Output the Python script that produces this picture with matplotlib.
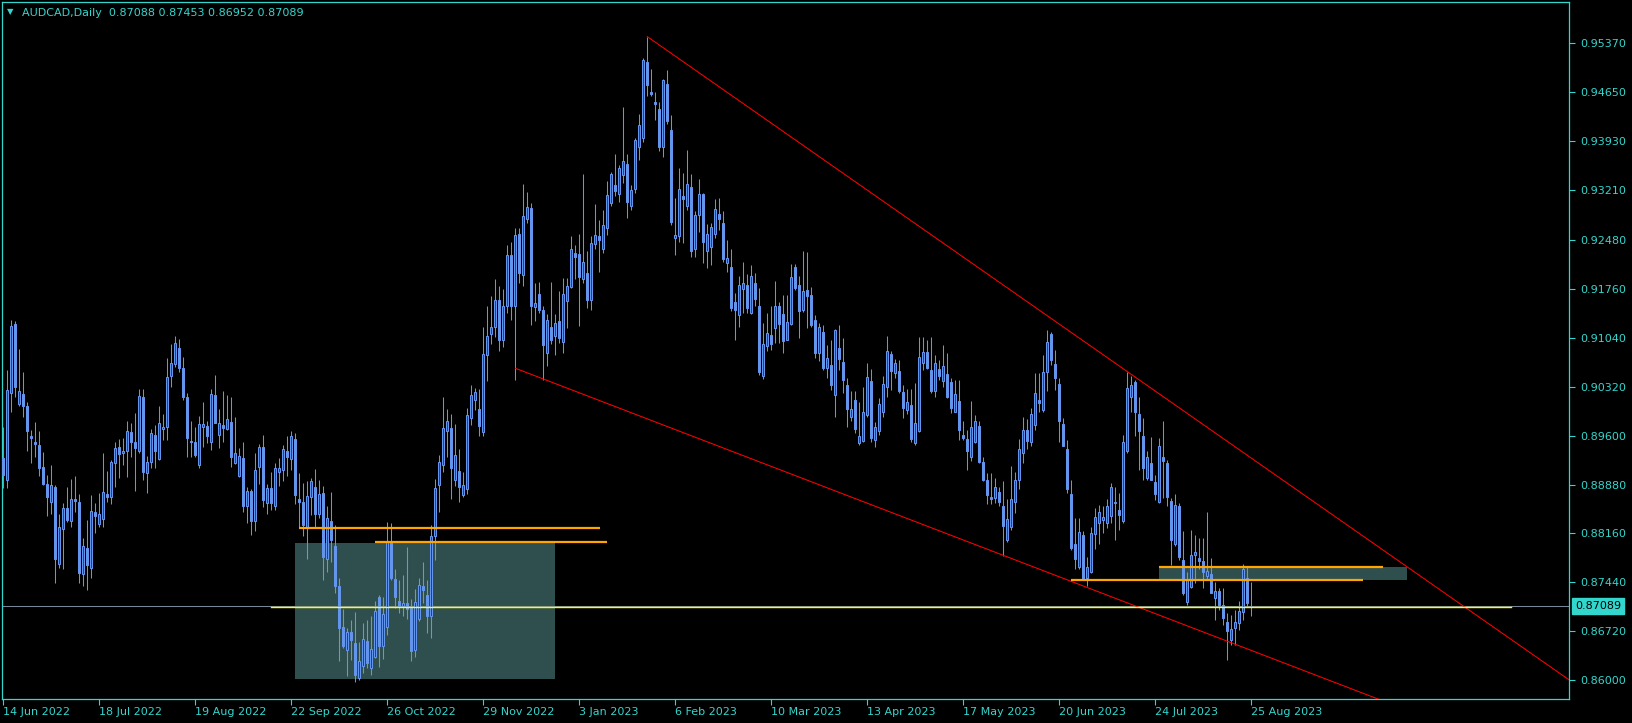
import matplotlib
matplotlib.use('Agg')
import matplotlib.pyplot as plt
import matplotlib.transforms as mtransforms
import numpy as np

# AUDCAD daily candles, 14 Jun 2022 .. 25 Aug 2023
opens = [
    0.8927, 0.8894, 0.9022, 0.9124, 0.9006, 0.9021, 0.9004, 0.8959, 0.8950, 0.8946,
    0.8914, 0.8889, 0.8863, 0.8885, 0.8771, 0.8823, 0.8854, 0.8834, 0.8867, 0.8863,
    0.8756, 0.8795, 0.8765, 0.8847, 0.8830, 0.8837, 0.8874, 0.8869, 0.8919, 0.8943,
    0.8934, 0.8937, 0.8965, 0.8950, 0.8937, 0.9017, 0.8905, 0.8921, 0.8961, 0.8926,
    0.8969, 0.8972, 0.9047, 0.9065, 0.9089, 0.9059, 0.9017, 0.8952, 0.8951, 0.8916,
    0.8973, 0.8974, 0.8950, 0.9020, 0.8961, 0.8976, 0.8969, 0.8980, 0.8919, 0.8900,
    0.8927, 0.8856, 0.8879, 0.8835, 0.8914, 0.8943, 0.8861, 0.8883, 0.8856, 0.8907,
    0.8910, 0.8937, 0.8925, 0.8955, 0.8866, 0.8863, 0.8825, 0.8869, 0.8885, 0.8844,
    0.8876, 0.8778, 0.8835, 0.8798, 0.8739, 0.8679, 0.8644, 0.8671, 0.8655, 0.8603,
    0.8621, 0.8658, 0.8618, 0.8634, 0.8723, 0.8650, 0.8678, 0.8803, 0.8749, 0.8717,
    0.8709, 0.8713, 0.8706, 0.8644, 0.8690, 0.8738, 0.8726, 0.8694, 0.8812, 0.8888,
    0.8916, 0.8966, 0.8971, 0.8895, 0.8908, 0.8873, 0.8881, 0.8986, 0.9013, 0.8999,
    0.8965, 0.9079, 0.9110, 0.9120, 0.9160, 0.9100, 0.9150, 0.9225, 0.9150, 0.9257,
    0.9196, 0.9278, 0.9294, 0.9149, 0.9168, 0.9145, 0.9081, 0.9120, 0.9106, 0.9129,
    0.9098, 0.9158, 0.9179, 0.9228, 0.9227, 0.9190, 0.9199, 0.9159, 0.9242, 0.9253,
    0.9235, 0.9265, 0.9302, 0.9329, 0.9315, 0.9344, 0.9360, 0.9298, 0.9322, 0.9385,
    0.9398, 0.9510, 0.9465, 0.9450, 0.9441, 0.9384, 0.9477, 0.9410, 0.9250, 0.9253,
    0.9312, 0.9298, 0.9326, 0.9234, 0.9284, 0.9315, 0.9232, 0.9238, 0.9256, 0.9286,
    0.9273, 0.9214, 0.9208, 0.9157, 0.9137, 0.9175, 0.9181, 0.9140, 0.9184, 0.9151,
    0.9047, 0.9092, 0.9108, 0.9118, 0.9151, 0.9139, 0.9101, 0.9124, 0.9208, 0.9182,
    0.9145, 0.9174, 0.9167, 0.9130, 0.9081, 0.9113, 0.9059, 0.9064, 0.9019, 0.9089,
    0.9068, 0.9035, 0.8987, 0.9013, 0.8949, 0.8952, 0.8990, 0.9040, 0.8953, 0.8967,
    0.8994, 0.9031, 0.9080, 0.9052, 0.9055, 0.9024, 0.8998, 0.9005, 0.8949, 0.8967,
    0.9067, 0.9083, 0.9057, 0.9025, 0.9058, 0.9040, 0.9050, 0.9039, 0.8995, 0.9011,
    0.8961, 0.8955, 0.8929, 0.8951, 0.8974, 0.8921, 0.8895, 0.8869, 0.8868, 0.8877,
    0.8856, 0.8806, 0.8826, 0.8863, 0.8895, 0.8935, 0.8968, 0.8951, 0.8976, 0.9013,
    0.8998, 0.9054, 0.9110, 0.9065, 0.9036, 0.8977, 0.8940, 0.8874, 0.8801, 0.8767,
    0.8814, 0.8750, 0.8759, 0.8815, 0.8831, 0.8836, 0.8831, 0.8841, 0.8862, 0.8851,
    0.8834, 0.8937, 0.9016, 0.9039, 0.8992, 0.8960, 0.8898, 0.8919, 0.8891, 0.8863,
    0.8929, 0.8919, 0.8864, 0.8800, 0.8857, 0.8777, 0.8715, 0.8737, 0.8784, 0.8780,
    0.8776, 0.8753, 0.8757, 0.8721, 0.8731, 0.8711, 0.8686, 0.8660, 0.8677, 0.8684,
    0.8700, 0.8751, 0.87088,
]
highs = [
    0.8973, 0.9056, 0.9130, 0.9129, 0.9087, 0.9054, 0.9009, 0.8968, 0.8980, 0.8967,
    0.8936, 0.8902, 0.8917, 0.8887, 0.8845, 0.8861, 0.8884, 0.8896, 0.8901, 0.8874,
    0.8810, 0.8836, 0.8873, 0.8861, 0.8875, 0.8934, 0.8908, 0.8924, 0.8951, 0.8955,
    0.8956, 0.8982, 0.8978, 0.8993, 0.9029, 0.9029, 0.8930, 0.8970, 0.8975, 0.9004,
    0.8991, 0.9074, 0.9095, 0.9106, 0.9102, 0.9075, 0.9023, 0.8981, 0.8972, 0.8989,
    0.9010, 0.8982, 0.9029, 0.9049, 0.8999, 0.9026, 0.9020, 0.9016, 0.8988, 0.8941,
    0.8951, 0.8884, 0.8881, 0.8935, 0.8948, 0.8961, 0.8889, 0.8907, 0.8919, 0.8927,
    0.8946, 0.8960, 0.8967, 0.8964, 0.8905, 0.8890, 0.8893, 0.8897, 0.8911, 0.8895,
    0.8886, 0.8857, 0.8877, 0.8828, 0.8751, 0.8705, 0.8677, 0.8689, 0.8701, 0.8657,
    0.8685, 0.8688, 0.8694, 0.8717, 0.8726, 0.8723, 0.8833, 0.8832, 0.8764, 0.8748,
    0.8755, 0.8796, 0.8720, 0.8735, 0.8751, 0.8774, 0.8748, 0.8828, 0.8896, 0.8932,
    0.9016, 0.8999, 0.8992, 0.8977, 0.8940, 0.8906, 0.9001, 0.9035, 0.9030, 0.9029,
    0.9120, 0.9150, 0.9165, 0.9190, 0.9180, 0.9175, 0.9240, 0.9245, 0.9265, 0.9265,
    0.9330, 0.9319, 0.9302, 0.9185, 0.9186, 0.9150, 0.9139, 0.9186, 0.9139, 0.9173,
    0.9192, 0.9192, 0.9253, 0.9240, 0.9257, 0.9345, 0.9232, 0.9254, 0.9301, 0.9277,
    0.9292, 0.9334, 0.9347, 0.9374, 0.9358, 0.9443, 0.9374, 0.9329, 0.9397, 0.9433,
    0.9516, 0.9547, 0.9499, 0.9465, 0.9450, 0.9485, 0.9497, 0.9431, 0.9309, 0.9354,
    0.9346, 0.9380, 0.9345, 0.9290, 0.9338, 0.9317, 0.9271, 0.9273, 0.9308, 0.9309,
    0.9291, 0.9248, 0.9234, 0.9170, 0.9194, 0.9215, 0.9197, 0.9211, 0.9199, 0.9177,
    0.9125, 0.9140, 0.9150, 0.9188, 0.9156, 0.9167, 0.9167, 0.9212, 0.9213, 0.9194,
    0.9232, 0.9230, 0.9178, 0.9137, 0.9125, 0.9122, 0.9093, 0.9101, 0.9117, 0.9123,
    0.9103, 0.9044, 0.9026, 0.9026, 0.9009, 0.9032, 0.9067, 0.9058, 0.8980, 0.9015,
    0.9047, 0.9107, 0.9085, 0.9073, 0.9071, 0.9035, 0.9028, 0.9028, 0.9037, 0.9105,
    0.9105, 0.9101, 0.9105, 0.9079, 0.9071, 0.9093, 0.9081, 0.9045, 0.9041, 0.9041,
    0.8982, 0.8968, 0.9011, 0.8990, 0.8981, 0.8929, 0.8905, 0.8905, 0.8897, 0.8884,
    0.8893, 0.8866, 0.8915, 0.8907, 0.8955, 0.8988, 0.8985, 0.9000, 0.9052, 0.9052,
    0.9079, 0.9115, 0.9113, 0.9086, 0.9044, 0.8986, 0.8954, 0.8895, 0.8838, 0.8838,
    0.8819, 0.8782, 0.8825, 0.8853, 0.8858, 0.8856, 0.8866, 0.8890, 0.8885, 0.8875,
    0.8961, 0.9054, 0.9048, 0.9042, 0.9016, 0.8986, 0.8937, 0.8958, 0.8902, 0.8956,
    0.8981, 0.8924, 0.8868, 0.8874, 0.8861, 0.8820, 0.8760, 0.8821, 0.8814, 0.8809,
    0.8809, 0.8847, 0.8780, 0.8745, 0.8736, 0.8736, 0.8699, 0.8696, 0.8704, 0.8716,
    0.8771, 0.8766, 0.87453,
]
lows = [
    0.8883, 0.8883, 0.8994, 0.9016, 0.9003, 0.8987, 0.8937, 0.8919, 0.8928, 0.8900,
    0.8887, 0.8842, 0.8844, 0.8743, 0.8765, 0.8764, 0.8833, 0.8825, 0.8847, 0.8743,
    0.8738, 0.8733, 0.8750, 0.8816, 0.8825, 0.8825, 0.8863, 0.8859, 0.8885, 0.8898,
    0.8916, 0.8899, 0.8928, 0.8878, 0.8934, 0.8894, 0.8875, 0.8913, 0.8913, 0.8924,
    0.8953, 0.8953, 0.9031, 0.9061, 0.9053, 0.9013, 0.8929, 0.8929, 0.8929, 0.8912,
    0.8943, 0.8949, 0.8939, 0.8978, 0.8941, 0.8950, 0.8968, 0.8914, 0.8918, 0.8899,
    0.8848, 0.8831, 0.8814, 0.8820, 0.8889, 0.8855, 0.8845, 0.8851, 0.8851, 0.8886,
    0.8893, 0.8900, 0.8910, 0.8859, 0.8824, 0.8812, 0.8779, 0.8843, 0.8826, 0.8839,
    0.8748, 0.8759, 0.8774, 0.8728, 0.8628, 0.8647, 0.8606, 0.8630, 0.8598, 0.8601,
    0.8611, 0.8618, 0.8608, 0.8633, 0.8619, 0.8632, 0.8667, 0.8747, 0.8706, 0.8699,
    0.8695, 0.8690, 0.8628, 0.8634, 0.8687, 0.8713, 0.8670, 0.8662, 0.8777, 0.8848,
    0.8906, 0.8929, 0.8867, 0.8886, 0.8863, 0.8870, 0.8874, 0.8975, 0.8998, 0.8960,
    0.8960, 0.9040, 0.9095, 0.9105, 0.9085, 0.9090, 0.9140, 0.9130, 0.9042, 0.9185,
    0.9180, 0.9272, 0.9123, 0.9129, 0.9140, 0.9042, 0.9063, 0.9094, 0.9079, 0.9096,
    0.9082, 0.9118, 0.9177, 0.9191, 0.9121, 0.9184, 0.9147, 0.9144, 0.9235, 0.9201,
    0.9229, 0.9255, 0.9298, 0.9313, 0.9303, 0.9331, 0.9280, 0.9292, 0.9317, 0.9365,
    0.9392, 0.9459, 0.9459, 0.9424, 0.9379, 0.9370, 0.9418, 0.9269, 0.9226, 0.9244,
    0.9243, 0.9292, 0.9222, 0.9222, 0.9259, 0.9214, 0.9206, 0.9211, 0.9250, 0.9263,
    0.9216, 0.9201, 0.9143, 0.9100, 0.9119, 0.9140, 0.9140, 0.9139, 0.9150, 0.9049,
    0.9043, 0.9084, 0.9086, 0.9096, 0.9096, 0.9082, 0.9100, 0.9123, 0.9174, 0.9104,
    0.9142, 0.9118, 0.9120, 0.9074, 0.9070, 0.9057, 0.9045, 0.9027, 0.8987, 0.9057,
    0.9022, 0.8973, 0.8982, 0.8964, 0.8946, 0.8950, 0.8987, 0.8951, 0.8943, 0.8961,
    0.8988, 0.9017, 0.9027, 0.9045, 0.9022, 0.8986, 0.8991, 0.8950, 0.8946, 0.8965,
    0.9057, 0.9058, 0.9022, 0.9017, 0.9042, 0.9032, 0.9015, 0.8993, 0.8994, 0.8953,
    0.8953, 0.8909, 0.8923, 0.8949, 0.8919, 0.8893, 0.8860, 0.8860, 0.8861, 0.8856,
    0.8783, 0.8804, 0.8821, 0.8846, 0.8881, 0.8920, 0.8940, 0.8944, 0.8968, 0.8994,
    0.8994, 0.9025, 0.9064, 0.9027, 0.8951, 0.8944, 0.8875, 0.8792, 0.8763, 0.8763,
    0.8748, 0.8738, 0.8758, 0.8793, 0.8801, 0.8816, 0.8824, 0.8832, 0.8807, 0.8821,
    0.8832, 0.8934, 0.8995, 0.8959, 0.8910, 0.8894, 0.8895, 0.8894, 0.8865, 0.8861,
    0.8868, 0.8856, 0.8770, 0.8797, 0.8777, 0.8726, 0.8711, 0.8736, 0.8743, 0.8763,
    0.8736, 0.8748, 0.8728, 0.8688, 0.8704, 0.8682, 0.8630, 0.8652, 0.8652, 0.8674,
    0.8689, 0.8708, 0.86952,
]
closes = [
    0.8902, 0.9027, 0.9121, 0.9032, 0.9025, 0.9004, 0.8966, 0.8957, 0.8947, 0.8913,
    0.8889, 0.8869, 0.8887, 0.8779, 0.8825, 0.8853, 0.8836, 0.8867, 0.8864, 0.8758,
    0.8797, 0.8769, 0.8849, 0.8842, 0.8844, 0.8877, 0.8870, 0.8921, 0.8941, 0.8933,
    0.8937, 0.8967, 0.8950, 0.8942, 0.9018, 0.8907, 0.8921, 0.8964, 0.8938, 0.8978,
    0.8973, 0.9046, 0.9066, 0.9096, 0.9059, 0.9017, 0.8956, 0.8950, 0.8931, 0.8977,
    0.8977, 0.8960, 0.9021, 0.8979, 0.8978, 0.8971, 0.8984, 0.8928, 0.8934, 0.8930,
    0.8856, 0.8879, 0.8835, 0.8910, 0.8943, 0.8865, 0.8883, 0.8861, 0.8912, 0.8912,
    0.8940, 0.8929, 0.8960, 0.8872, 0.8863, 0.8829, 0.8871, 0.8893, 0.8845, 0.8874,
    0.8782, 0.8838, 0.8807, 0.8739, 0.8677, 0.8650, 0.8671, 0.8660, 0.8608, 0.8629,
    0.8661, 0.8626, 0.8646, 0.8702, 0.8650, 0.8698, 0.8803, 0.8750, 0.8723, 0.8709,
    0.8713, 0.8705, 0.8643, 0.8715, 0.8740, 0.8733, 0.8695, 0.8812, 0.8883, 0.8921,
    0.8971, 0.8982, 0.8913, 0.8932, 0.8884, 0.8888, 0.8990, 0.9019, 0.9024, 0.8974,
    0.9080, 0.9106, 0.9120, 0.9160, 0.9101, 0.9150, 0.9225, 0.9150, 0.9255, 0.9199,
    0.9283, 0.9296, 0.9150, 0.9155, 0.9144, 0.9093, 0.9130, 0.9101, 0.9125, 0.9104,
    0.9168, 0.9180, 0.9234, 0.9223, 0.9193, 0.9216, 0.9160, 0.9243, 0.9255, 0.9247,
    0.9270, 0.9314, 0.9345, 0.9320, 0.9354, 0.9364, 0.9304, 0.9321, 0.9395, 0.9417,
    0.9513, 0.9476, 0.9462, 0.9447, 0.9385, 0.9483, 0.9422, 0.9274, 0.9255, 0.9322,
    0.9308, 0.9330, 0.9232, 0.9284, 0.9315, 0.9244, 0.9256, 0.9267, 0.9293, 0.9278,
    0.9220, 0.9221, 0.9148, 0.9145, 0.9181, 0.9184, 0.9148, 0.9195, 0.9161, 0.9054,
    0.9095, 0.9111, 0.9094, 0.9151, 0.9124, 0.9099, 0.9127, 0.9193, 0.9177, 0.9143,
    0.9173, 0.9165, 0.9123, 0.9082, 0.9119, 0.9060, 0.9074, 0.9034, 0.9116, 0.9073,
    0.9042, 0.8999, 0.8999, 0.8970, 0.8959, 0.8994, 0.9046, 0.8956, 0.8973, 0.9007,
    0.9036, 0.9085, 0.9055, 0.9066, 0.9026, 0.9001, 0.9010, 0.8955, 0.8978, 0.9076,
    0.9083, 0.9059, 0.9026, 0.9066, 0.9048, 0.9063, 0.9017, 0.9001, 0.9021, 0.8968,
    0.8957, 0.8938, 0.8973, 0.8981, 0.8921, 0.8894, 0.8872, 0.8866, 0.8885, 0.8862,
    0.8827, 0.8837, 0.8867, 0.8895, 0.8940, 0.8968, 0.8952, 0.8992, 0.9022, 0.9008,
    0.9053, 0.9098, 0.9071, 0.9045, 0.8981, 0.8945, 0.8882, 0.8794, 0.8779, 0.8818,
    0.8749, 0.8767, 0.8817, 0.8840, 0.8847, 0.8840, 0.8856, 0.8885, 0.8861, 0.8843,
    0.8950, 0.9030, 0.9034, 0.8994, 0.8967, 0.8912, 0.8928, 0.8895, 0.8874, 0.8945,
    0.8923, 0.8869, 0.8807, 0.8858, 0.8782, 0.8728, 0.8747, 0.8785, 0.8788, 0.8776,
    0.8760, 0.8761, 0.8729, 0.8732, 0.8711, 0.8691, 0.8672, 0.8676, 0.8686, 0.8702,
    0.8764, 0.8713, 0.87089,
]

date_labels = ['14 Jun 2022', '18 Jul 2022', '19 Aug 2022', '22 Sep 2022', '26 Oct 2022',
               '29 Nov 2022', '3 Jan 2023', '6 Feb 2023', '10 Mar 2023', '13 Apr 2023',
               '17 May 2023', '20 Jun 2023', '24 Jul 2023', '25 Aug 2023']
label_step = 24  # bars between date labels
price_ticks = [0.86000, 0.86720, 0.87440, 0.88160, 0.88880, 0.89600, 0.90320,
               0.91040, 0.91760, 0.92480, 0.93210, 0.93930, 0.94650, 0.95370]

# drawn objects: (bar index, price)
upper_trend = [(161, 0.95468), (281, 0.90541)]
lower_trend = [(128, 0.9059), (250, 0.87838)]
zones = [(73, 138, 0.8602, 0.8802), (289, 350.8, 0.8748, 0.87666)]
orange_levels = [(74, 149.2, 0.88244), (93, 151, 0.88038), (289, 345, 0.87666), (267, 340, 0.87480)]
yellow_level = (67, 377, 0.87074)
bid = 0.87089
header = 'AUDCAD,Daily  0.87088 0.87453 0.86952 0.87089'

TEAL = '#33d6cd'
LIGHT = '#6495ed'
DARK = '#1432ff'

W, H = 1633, 723
fig = plt.figure(figsize=(W / 100, H / 100), dpi=100, facecolor='black')
ax = fig.add_axes([2 / W, 24 / H, 1567 / W, 697 / H])
ax.set_facecolor('black')

o = np.array(opens)
h = np.array(highs)
l = np.array(lows)
c = np.array(closes)
x = np.arange(len(c))
up = c >= o

ax.set_xlim(-0.325, 391.42)
ax.set_ylim(0.857249, 0.959775)

# zones behind candles
for x0, x1, p0, p1 in zones:
    ax.add_patch(plt.Rectangle((x0, p0), x1 - x0, p1 - p0, facecolor='#2f4f4f',
                               edgecolor='none', zorder=1))

ax.axhline(bid, color='#778899', lw=0.75, zorder=2)

ax.vlines(x, l, h, color=LIGHT, lw=0.75, zorder=3)
body_min = 0.00004
hb = np.maximum(np.abs(c - o), body_min)
ax.bar(x[up], hb[up], bottom=o[up], width=0.5, color=DARK, edgecolor=LIGHT,
       linewidth=0.72, zorder=4)
ax.bar(x[~up], hb[~up], bottom=c[~up], width=0.5, color=LIGHT, edgecolor=LIGHT,
       linewidth=0.72, zorder=4)

# trend lines (rays to the right)
for (xa, pa), (xb, pb) in [upper_trend, lower_trend]:
    slope = (pb - pa) / (xb - xa)
    xe = 420
    ax.plot([xa, xe], [pa, pa + slope * (xe - xa)], color='#ff0000', lw=0.75, zorder=6)

for x0, x1, p in orange_levels:
    ax.plot([x0, x1], [p, p], color='#ffa500', lw=1.6, zorder=6, solid_capstyle='butt')

yx0, yx1, yp = yellow_level
ax.plot([yx0, yx1], [yp, yp], color='#ffff00', lw=1.0, zorder=7)

# axes styling
for s in ax.spines.values():
    s.set_color(TEAL)
    s.set_linewidth(0.9)
ax.yaxis.tick_right()
ax.set_yticks(price_ticks)
ax.set_yticklabels([f'{v:.5f}' for v in price_ticks])
ax.set_xticks(np.arange(len(date_labels)) * label_step)
ax.set_xticklabels(date_labels, ha='left')
ax.tick_params(axis='both', colors=TEAL, labelcolor=TEAL, labelsize=8, length=4, width=0.8)
ax.tick_params(axis='y', pad=4)
ax.tick_params(axis='x', pad=2)

tr = mtransforms.blended_transform_factory(ax.transAxes, ax.transData)
ax.text(1.004, bid, f'{bid:.5f}', transform=tr, ha='left', va='center', fontsize=8,
        color='black', zorder=10,
        bbox=dict(boxstyle='square,pad=0.25', facecolor=TEAL, edgecolor=TEAL))

fig.text(7 / W, 1 - 12 / H, '\u25bc', color=TEAL, fontsize=6, va='center', ha='left')
fig.text(22 / W, 1 - 13 / H, header, color=TEAL, fontsize=8, va='center', ha='left')

fig.savefig('out.png', dpi=100, facecolor='black')
